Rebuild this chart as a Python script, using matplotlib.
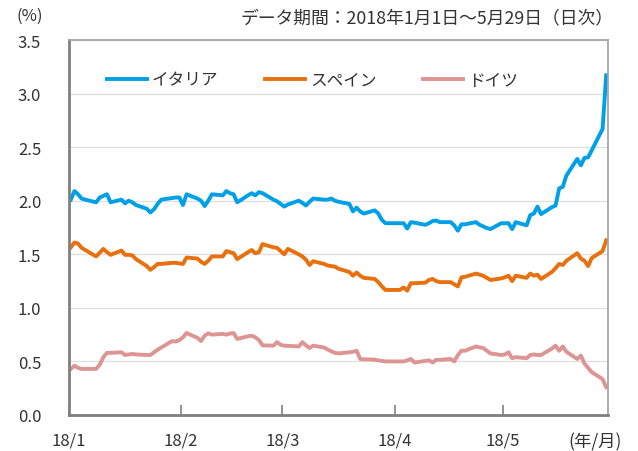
import matplotlib
matplotlib.use('Agg')
import matplotlib.pyplot as plt
import pandas as pd

plt.rcParams['font.family'] = ['Noto Sans CJK JP', 'DejaVu Sans']

# business days 2018/1/1 - 2018/5/29, 10y yields (%)
dates = pd.bdate_range('2018-01-01', '2018-05-29')

italy = [
    2.01, 2.09, 2.06, 2.02, 2.01, 1.985, 2.03, 2.045, 2.06, 1.985,
    2.01, 1.975, 2.00, 1.985, 1.96, 1.925, 1.89, 1.92, 1.97, 2.01,
    2.025, 2.03, 2.03,
    1.96, 2.06, 2.02, 2.00, 1.95, 2.00, 2.06, 2.05, 2.09, 2.07,
    2.06, 1.985, 2.05, 2.07, 2.05, 2.08, 2.07, 2.01, 1.995, 1.97,
    1.945, 1.965, 2.00, 1.98, 1.955, 1.99, 2.02, 2.01, 2.01, 2.02,
    2.00, 1.99, 1.97, 1.90, 1.935, 1.90, 1.88, 1.91, 1.88, 1.82,
    1.79, 1.79,
    1.79, 1.79, 1.74, 1.80, 1.795, 1.775, 1.79, 1.81, 1.815, 1.80,
    1.80, 1.77, 1.72, 1.78, 1.78, 1.80, 1.775, 1.76, 1.745, 1.735,
    1.79,
    1.79, 1.79, 1.735, 1.80, 1.77, 1.865, 1.88, 1.945, 1.875, 1.94,
    1.955, 2.115, 2.13, 2.235, 2.39, 2.33, 2.40, 2.405, 2.47, 2.67,
    3.17,
]

spain = [
    1.565, 1.61, 1.60, 1.56, 1.54, 1.48, 1.515, 1.55, 1.52, 1.495,
    1.535, 1.495, 1.495, 1.49, 1.455, 1.39, 1.355, 1.38, 1.41, 1.41,
    1.42, 1.42, 1.415,
    1.41, 1.47, 1.46, 1.43, 1.41, 1.44, 1.48, 1.48, 1.53, 1.52,
    1.51, 1.455, 1.52, 1.54, 1.51, 1.52, 1.595, 1.565, 1.56, 1.53,
    1.50, 1.55, 1.50, 1.48, 1.45, 1.40, 1.435, 1.41, 1.395, 1.39,
    1.385, 1.365, 1.335, 1.30, 1.33, 1.30, 1.28, 1.27, 1.24, 1.20,
    1.167, 1.167,
    1.167, 1.19, 1.16, 1.23, 1.23, 1.235, 1.26, 1.27, 1.25, 1.24,
    1.24, 1.22, 1.20, 1.285, 1.29, 1.32, 1.31, 1.30, 1.28, 1.26,
    1.275,
    1.285, 1.30, 1.25, 1.30, 1.28, 1.32, 1.30, 1.31, 1.27, 1.335,
    1.37, 1.41, 1.40, 1.44, 1.51, 1.46, 1.44, 1.39, 1.465, 1.53,
    1.63,
]

germany = [
    0.43, 0.46, 0.44, 0.43, 0.43, 0.43, 0.47, 0.54, 0.58, 0.58,
    0.585, 0.56, 0.565, 0.57, 0.565, 0.56, 0.56, 0.585, 0.61, 0.63,
    0.69, 0.685, 0.70,
    0.725, 0.765, 0.72, 0.69, 0.74, 0.762, 0.75, 0.757, 0.75, 0.76,
    0.765, 0.71, 0.735, 0.74, 0.725, 0.70, 0.65, 0.647, 0.68, 0.655,
    0.647, 0.645, 0.64, 0.68, 0.65, 0.625, 0.647, 0.63, 0.61, 0.595,
    0.58, 0.575, 0.585, 0.59, 0.60, 0.523, 0.52, 0.517, 0.51, 0.505,
    0.50, 0.50,
    0.50, 0.50, 0.51, 0.523, 0.49, 0.505, 0.51, 0.49, 0.515, 0.515,
    0.523, 0.50, 0.56, 0.60, 0.60, 0.64, 0.63, 0.625, 0.60, 0.575,
    0.56,
    0.565, 0.585, 0.53, 0.54, 0.53, 0.56, 0.565, 0.56, 0.56, 0.62,
    0.647, 0.60, 0.64, 0.59, 0.523, 0.555, 0.48, 0.44, 0.40, 0.335,
    0.26,
]

names = ['イタリア', 'スペイン', 'ドイツ']
colors = ['#00A0E9', '#E8700F', '#DD9593']
month_ticks = pd.date_range('2018-01-01', '2018-05-01', freq='MS')
month_labels = ['18/1', '18/2', '18/3', '18/4', '18/5']

fig = plt.figure(figsize=(6.38, 4.52), dpi=100)
ax = fig.add_axes([69 / 638, 36 / 452, 539 / 638, 375 / 452])

# points sit in the middle of each day, like an Excel date axis
x = dates + pd.Timedelta(hours=12)
for vals, name, c in zip([italy, spain, germany], names, colors):
    ax.plot(x, vals, color=c, lw=2.8, label=name, solid_joinstyle='round')

ax.set_xlim(pd.Timestamp('2018-01-01'), pd.Timestamp('2018-05-30'))
ax.set_ylim(0, 3.5)
ax.set_yticks([0, 0.5, 1.0, 1.5, 2.0, 2.5, 3.0, 3.5])
ax.yaxis.set_major_formatter(matplotlib.ticker.FormatStrFormatter('%.1f'))
ax.set_xticks(month_ticks)
ax.set_xticklabels(month_labels)

ax.grid(axis='y', color='#DEDEDE', lw=0.9)
ax.set_axisbelow(True)
ax.tick_params(axis='y', length=0, pad=20, labelsize=12, labelcolor='#333333')
ax.tick_params(axis='x', direction='in', length=7, width=1.2, color='#808080',
               pad=12, labelsize=12, labelcolor='#333333')

for s in ['left', 'bottom']:
    ax.spines[s].set_color('#808080')
    ax.spines[s].set_linewidth(2)
for s in ['top', 'right']:
    ax.spines[s].set_color('#A6A6A6')
    ax.spines[s].set_linewidth(1.3)

ax.legend(loc='center', bbox_to_anchor=(0.452, 0.893), ncol=3, frameon=False,
          fontsize=12, handlelength=2.4, handletextpad=0.3, columnspacing=2.8,
          labelcolor='#333333')

fig.text(17 / 638, 1 - 16 / 452, '(%)', fontsize=12, color='#333333',
         ha='left', va='center')
fig.text(613 / 638, 1 - 18 / 452, 'データ期間：2018年1月1日～5月29日（日次）',
         fontsize=12.8, color='#333333', ha='right', va='center')
fig.text(568 / 638, 1 - 442 / 452, '(年/月)', fontsize=12.5, color='#333333',
         ha='left', va='center')

fig.savefig('out.png', dpi=100)
